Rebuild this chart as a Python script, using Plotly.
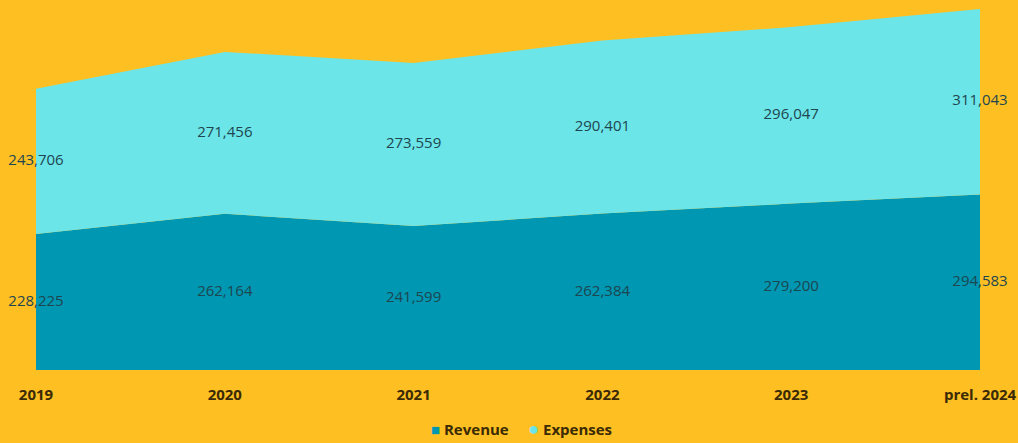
import plotly.graph_objects as go

categories = ["2019", "2020", "2021", "2022", "2023", "prel. 2024"]
revenue = [228225, 262164, 241599, 262384, 279200, 294583]
expenses = [243706, 271456, 273559, 290401, 296047, 311043]

BG = "#FDBF22"
REV_C = "#0097B2"
EXP_C = "#6CE5E8"
FONT = "Open Sans"
TXT = "#3a2a05"
LBL = "#1d4650"

fig = go.Figure()
fig.add_trace(go.Scatter(x=categories, y=revenue, name="Revenue", stackgroup="one",
                         mode="lines", line=dict(width=0, color=REV_C), fillcolor=REV_C,
                         showlegend=False, hoverinfo="skip"))
fig.add_trace(go.Scatter(x=categories, y=expenses, name="Expenses", stackgroup="one",
                         mode="lines", line=dict(width=0, color=EXP_C), fillcolor=EXP_C,
                         showlegend=False, hoverinfo="skip"))

rev_mid = [r / 2 for r in revenue]
exp_mid = [r + e / 2 for r, e in zip(revenue, expenses)]
fig.add_trace(go.Scatter(x=categories, y=rev_mid, mode="text",
                         text=[f"{v:,}" for v in revenue], textposition="middle center",
                         textfont=dict(family=FONT, size=15, color=LBL),
                         showlegend=False, hoverinfo="skip", cliponaxis=False))
fig.add_trace(go.Scatter(x=categories, y=exp_mid, mode="text",
                         text=[f"{v:,}" for v in expenses], textposition="middle center",
                         textfont=dict(family=FONT, size=15, color=LBL),
                         showlegend=False, hoverinfo="skip", cliponaxis=False))

total_max = max(r + e for r, e in zip(revenue, expenses))

legend_text = (f"<span style='color:{REV_C}'>■</span> <b>Revenue</b>"
               f"     <span style='color:{EXP_C};font-size:18px'>●</span> <b>Expenses</b>")

fig.update_layout(
    width=1018, height=443,
    paper_bgcolor=BG, plot_bgcolor=BG,
    margin=dict(l=36, r=38, t=9, b=73),
    font=dict(family=FONT, color=TXT),
    showlegend=False,
    xaxis=dict(showgrid=False, zeroline=False, showline=False, automargin=False,
               ticks="outside", ticklen=11, tickcolor="rgba(0,0,0,0)",
               tickfont=dict(family=FONT, size=15, color=TXT, weight="bold"),
               range=[0, 5]),
    yaxis=dict(visible=False, range=[0, total_max], fixedrange=True, automargin=False),
    annotations=[dict(text=legend_text, x=0.514, y=-0.16, xref="paper", yref="paper",
                      xanchor="center", yanchor="middle", showarrow=False,
                      font=dict(family=FONT, size=15, color=TXT))],
    hovermode=False,
)

fig.write_html("out.html", config={"displayModeBar": False},
               post_script="document.body.style.margin='0';")
